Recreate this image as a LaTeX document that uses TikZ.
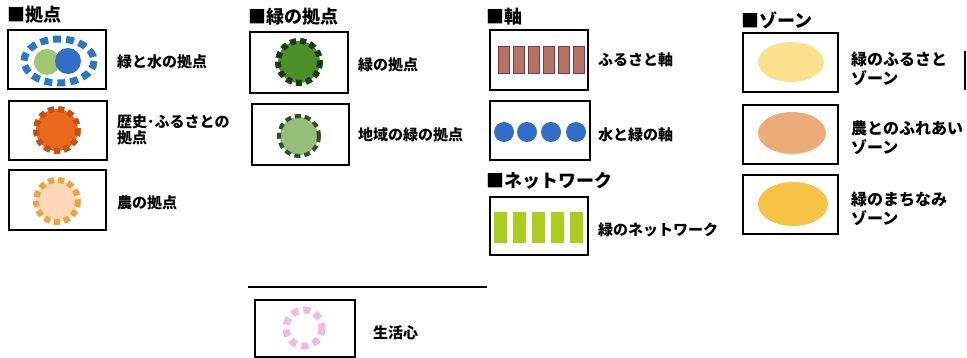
\documentclass[tikz,border=0pt]{standalone}
\usepackage{fontspec}
\newfontfamily\jp{Noto Sans CJK JP}
\definecolor{ringblue}{RGB}{40,120,200}
\definecolor{wblue}{RGB}{50,110,200}
\definecolor{lgreen}{RGB}{160,200,110}
\definecolor{orng}{RGB}{232,105,25}
\definecolor{orngd}{RGB}{200,80,20}
\definecolor{peach}{RGB}{255,215,185}
\definecolor{peachd}{RGB}{235,165,60}
\definecolor{dgreen}{RGB}{75,145,40}
\definecolor{dgreenb}{RGB}{30,55,25}
\definecolor{mgreen}{RGB}{150,190,120}
\definecolor{mgreenb}{RGB}{50,80,40}
\definecolor{pinkr}{RGB}{240,185,230}
\definecolor{brownf}{RGB}{180,115,100}
\definecolor{brownd}{RGB}{120,60,70}
\definecolor{netg}{RGB}{170,205,30}
\definecolor{zy}{RGB}{250,225,140}
\definecolor{zo}{RGB}{235,172,122}
\definecolor{zg}{RGB}{245,195,70}
\begin{document}
\begin{tikzpicture}[x=1pt,y=-1pt,
  legbox/.style={draw=black, line width=2.2pt, inner sep=0, fill=white},
  lbl/.style={font=\jp\bfseries\fontsize{15}{16}\selectfont, anchor=west, inner sep=0, align=left},
  zlbl/.style={font=\jp\bfseries\fontsize{16}{19}\selectfont, anchor=west, inner sep=0, align=left},
  head/.style={font=\jp\bfseries\fontsize{18}{19}\selectfont, anchor=west, inner sep=0},
  toothed/.style={line width=6pt, dash pattern=on 6pt off 4pt},
]
\useasboundingbox (0,0) rectangle (967,358);
\fill[white] (0,0) rectangle (967,358);

% headings
\node[head] (h1) at (7,15) {■拠点};
\node[head] (h2) at (248,17) {■緑の拠点};
\node[head] (h3) at (486,17) {■軸};
\node[head] (h4) at (486,181) {■ネットワーク};
\node[head] (h5) at (741,20) {■ゾーン};

% boxes
\node[legbox, minimum width=98, minimum height=59] (b1) at (57,59.5) {};
\node[legbox, minimum width=98, minimum height=59] (b2) at (58,130.5) {};
\node[legbox, minimum width=97, minimum height=60] (b3) at (57.5,200) {};
\node[legbox, minimum width=98, minimum height=61] (g1) at (299,62.5) {};
\node[legbox, minimum width=97, minimum height=61] (g2) at (300.5,134.5) {};
\node[legbox, minimum width=100, minimum height=57] (s1) at (305,328.5) {};
\node[legbox, minimum width=98, minimum height=60] (a1) at (539,60) {};
\node[legbox, minimum width=100, minimum height=59] (a2) at (540,130.5) {};
\node[legbox, minimum width=98, minimum height=58] (n1) at (539,226) {};
\node[legbox, minimum width=95, minimum height=59] (z1) at (790.5,62.5) {};
\node[legbox, minimum width=95, minimum height=59] (z2) at (790.5,134.5) {};
\node[legbox, minimum width=95, minimum height=59] (z3) at (790.5,204.5) {};

% icons: kyoten
\draw[ringblue, line width=7pt, dash pattern=on 8pt off 5pt] (59,61) ellipse [x radius=35, y radius=22];
\fill[lgreen] (47,62) circle (13);
\fill[wblue] (68,61) circle (13);
\fill[orng] (57,130) circle (21);
\draw[orngd, toothed] (57,130) circle (21);
\fill[peach] (57,201) circle (21);
\draw[peachd, toothed] (57,201) circle (21);
% midori no kyoten
\fill[dgreen] (299,62) circle (21);
\draw[dgreenb, toothed] (299,62) circle (21);
\fill[mgreen] (299,136) circle (19);
\draw[mgreenb, line width=4pt, dash pattern=on 6pt off 4pt] (299,136) circle (20);
% seikatsushin
\draw[pinkr, line width=7pt, dash pattern=on 7pt off 5pt] (304,328) circle (18);
% furusato axis
\foreach \i in {0,...,5}{
  \draw[brownd, fill=brownf, line width=0.8pt] (498+15*\i,46) rectangle ++(11,27);
}
% water/green axis
\foreach \cx in {504,527,551,576}{
  \fill[wblue] (\cx,132) circle (10);
}
% network
\foreach \i in {0,...,4}{
  \fill[netg] (494+19*\i,212) rectangle ++(13,31);
}
% zones
\fill[zy] (791,62) ellipse [x radius=33, y radius=20];
\fill[zo] (792,133) ellipse [x radius=34, y radius=21];
\fill[zg] (793,204) ellipse [x radius=35, y radius=22];

% separator line
\draw[line width=1.6pt] (248,287) -- (487,287);
% partial box edge at right
\draw[line width=1.6pt] (965,51) -- (965,90);

% labels
\node[lbl] (t1) at (117,62) {緑と水の拠点};
\node[lbl] (t2) at (117,130) {歴史･ふるさとの\\拠点};
\node[lbl] (t3) at (117,203) {農の拠点};
\node[lbl] (t4) at (358,65) {緑の拠点};
\node[lbl] (t5) at (358,135) {地域の緑の拠点};
\node[lbl] (t6) at (373,333) {生活心};
\node[lbl] (t7) at (598,60) {ふるさと軸};
\node[lbl] (t8) at (598,135) {水と緑の軸};
\node[lbl] (t9) at (598,230) {緑のネットワーク};
\node[zlbl] (t10) at (851,69) {緑のふるさと\\ゾーン};
\node[zlbl] (t11) at (851,138) {農とのふれあい\\ゾーン};
\node[zlbl] (t12) at (851,209) {緑のまちなみ\\ゾーン};
\end{tikzpicture}
\end{document}
